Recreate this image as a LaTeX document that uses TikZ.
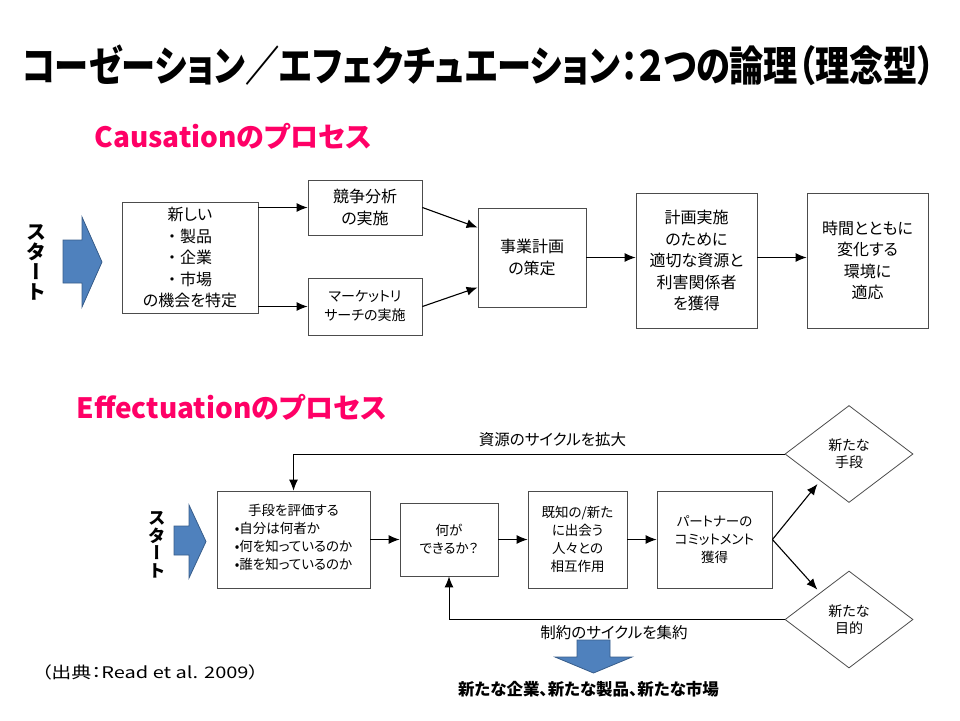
\documentclass[tikz,border=0pt]{standalone}
\usepackage{fontspec}
\setmainfont{Noto Sans CJK JP}[RawFeature=+palt]
\newfontfamily\vertjp{Noto Sans CJK JP}[RawFeature=+vert]
\usetikzlibrary{shapes.geometric, arrows.meta, calc}

\definecolor{procpink}{RGB}{255,0,102}
\definecolor{startblue}{RGB}{79,129,189}
\definecolor{startedge}{RGB}{56,93,138}

\tikzset{
    box/.style={draw=black!70, line width=0.8pt, fill=white, align=center, inner sep=2pt,
        font=\fontsize{16}{21.5}\selectfont},
    smallbox/.style={box, font=\fontsize{13.5}{18}\selectfont},
    choice/.style={diamond, draw=black!70, line width=0.8pt, align=center, inner sep=0pt,
        minimum width=128pt, minimum height=97pt, font=\fontsize{14}{17}\selectfont},
    arr/.style={-{Latex[length=11pt, width=9pt]}, line width=1.1pt},
    loopline/.style={-{Latex[length=11pt, width=9pt]}, line width=1pt},
    startarrow/.style={fill=startblue, draw=startedge, line width=0.8pt},
    heading/.style={anchor=west, text=procpink, font=\fontsize{28}{28}\selectfont\bfseries},
    starttext/.style={align=center, font=\vertjp\fontsize{20}{20}\selectfont\bfseries}
}

\begin{document}
\begin{tikzpicture}[x=1pt, y=-1pt]
    \useasboundingbox (0,0) rectangle (960,720);

    \node[font=\fontsize{32}{32}\selectfont\bfseries] (title) at (478.5,65)
        {\scalebox{1}[1.22]{\resizebox{913pt}{!}{コーゼーション／エフェクチュエーション：２つの論理（理念型）}}};

    % causation
    \node[heading] (caushead) at (91,136.5) {Causationのプロセス};
    \node[starttext] (cstart) at (37,262) {ス\\タ\\ー\\ト};
    \filldraw[startarrow] (63,240) -- (82,240) -- (82,217) -- (102,262) -- (82,307) -- (82,283) -- (63,283) -- cycle;

    \node[box, minimum width=136pt, minimum height=111pt] (opport) at (190,257.5)
        {新しい\\・\hspace{4pt}製品\\・\hspace{4pt}企業\\・\hspace{4pt}市場\\の機会を特定};
    \node[box, minimum width=114pt, minimum height=55pt] (compete) at (365,207.5) {競争分析\\の実施};
    \node[box, minimum width=114pt, minimum height=57pt, font=\fontsize{14}{19}\selectfont] (market) at (365,306.5) {マーケットリ\\サーチの実施};
    \node[box, minimum width=108pt, minimum height=99pt] (plan) at (532,257.5) {事業計画\\の策定};
    \node[box, minimum width=121pt, minimum height=135pt] (resource) at (696.5,260.5) {計画実施\\のために\\適切な資源と\\利害関係者\\を獲得};
    \node[box, minimum width=121pt, minimum height=135pt] (adapt) at (867.5,260.5) {時間とともに\\変化する\\環境に\\適応};

    \draw[arr] (opport.east |- compete.west) -- (compete.west);
    \draw[arr] (opport.east |- market.west) -- (market.west);
    \draw[arr] (compete.east) -- ($(plan.north west)!0.2!(plan.south west)$);
    \draw[arr] (market.east) -- ($(plan.north west)!0.8!(plan.south west)$);
    \draw[arr] (plan.east) -- (plan.east -| resource.west);
    \draw[arr] (resource.east |- plan.east) -- (plan.east -| adapt.west);

    % effectuation
    \node[heading] (effhead) at (73,407) {Effectuationのプロセス};
    \node[starttext, font=\vertjp\fontsize{17.5}{17.5}\selectfont\bfseries] (estart) at (157,545) {ス\\タ\\ー\\ト};
    \filldraw[startarrow] (174,526) -- (189,526) -- (189,505) -- (206,541.5) -- (189,578) -- (189,555) -- (174,555) -- cycle;

    \node[smallbox, minimum width=153pt, minimum height=97pt] (means) at (293.5,539.5)
        {手段を評価する\\[4pt]\begin{tabular}{@{}l@{}}•自分は何者か\\•何を知っているのか\\•誰を知っているのか\end{tabular}};
    \node[smallbox, minimum width=98pt, minimum height=73pt] (cando) at (449,539.5) {何が\\できるか？};
    \node[smallbox, minimum width=99pt, minimum height=97pt] (interact) at (577.5,539.5) {既知の/新た\\に出会う\\人々との\\相互作用};
    \node[smallbox, minimum width=115pt, minimum height=97pt] (commit) at (714.5,539.5) {パートナーの\\コミットメント\\獲得};
    \node[choice] (newmeans) at (849,454) {新たな\\手段};
    \node[choice] (newgoal) at (849,619.5) {新たな\\目的};

    \draw[arr] (means) -- (cando);
    \draw[arr] (cando) -- (interact);
    \draw[arr] (interact) -- (commit);
    \draw[arr, shorten >=4pt] (commit.east) -- ($(newmeans.west)!0.55!(newmeans.south)$);
    \draw[arr, shorten >=4pt] (commit.east) -- ($(newgoal.west)!0.55!(newgoal.north)$);

    \draw[loopline] (newmeans.west) -| (means.north);
    \draw[loopline] (newgoal.west) -| (cando.south);
    \node[font=\fontsize{15.5}{17}\selectfont] (expand) at (552.5,440) {資源のサイクルを拡大};
    \node[font=\fontsize{15.5}{17}\selectfont] (converge) at (614,633) {制約のサイクルを集約};

    \filldraw[startarrow] (577,640) -- (610,640) -- (610,657) -- (632,657) -- (593.5,673) -- (555,657) -- (577,657) -- cycle;
    \node[font=\fontsize{16.5}{17}\selectfont\bfseries] (outcome) at (588.5,689) {新たな企業、新たな製品、新たな市場};

    \node[font=\fontsize{16}{17}\selectfont] (source) at (150,672) {\scalebox{1.25}[1]{（出典：Read et al. 2009）}};
\end{tikzpicture}
\end{document}
